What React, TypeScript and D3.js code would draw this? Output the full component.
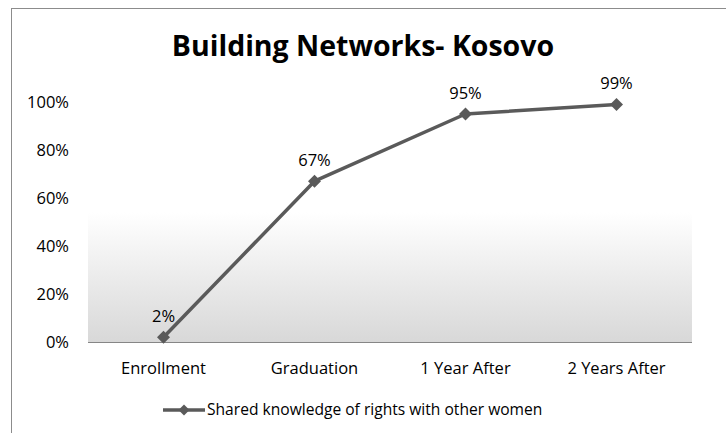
import React from "react";
import * as d3 from "d3";

const categories = ["Enrollment", "Graduation", "1 Year After", "2 Years After"];
const values = [0.02, 0.67, 0.95, 0.99];
const yTicks = [0, 0.2, 0.4, 0.6, 0.8, 1.0];
const seriesName = "Shared knowledge of rights with other women";
const title = "Building Networks- Kosovo";

const W = 726;
const H = 433;
const FONT = "'Open Sans', 'Noto Sans', sans-serif";

export default function App() {
  const plotL = 88, plotR = 692, plotT = 102, plotB = 342;
  const x = d3.scaleBand<string>().domain(categories).range([plotL, plotR]);
  const y = d3.scaleLinear().domain([0, 1]).range([plotB, plotT]);
  const cx = (c: string) => (x(c) as number) + x.bandwidth() / 2;
  const line = d3
    .line<number>()
    .x((_, i) => cx(categories[i]))
    .y((d) => y(d));
  const fmt = d3.format(".0%");
  const diamond = (px: number, py: number, r: number) =>
    `M${px},${py - r}L${px + r},${py}L${px},${py + r}L${px - r},${py}Z`;
  const col = "#5a5a5a";
  const fs = 16.5;

  return (
    <svg
      width={W}
      height={H}
      style={{ position: "absolute", left: 0, top: 0, background: "#fff" }}
      fontFamily={FONT}
    >
      <defs>
        <linearGradient id="pg" x1="0" y1="0" x2="0" y2="1">
          <stop offset="0" stopColor="#ffffff" />
          <stop offset="0.46" stopColor="#ffffff" />
          <stop offset="1" stopColor="#d8d8d8" />
        </linearGradient>
      </defs>
      <rect x={0} y={0} width={W} height={H} fill="#fff" />
      <rect x={11.5} y={8.5} width={900} height={600} fill="none" stroke="#8c8c8c" strokeWidth={1} />
      <text x={363} y={56} textAnchor="middle" fontSize={28.5} fontWeight="bold" fill="#000">
        {title}
      </text>
      <rect x={plotL} y={plotT} width={plotR - plotL} height={plotB - plotT} fill="url(#pg)" />
      <line x1={plotL} x2={plotR} y1={plotB + 0.5} y2={plotB + 0.5} stroke="#868686" strokeWidth={1.2} />
      {yTicks.map((t) => (
        <text key={t} x={69} y={y(t)} dy="0.35em" textAnchor="end" fontSize={fs} fill="#000">
          {fmt(t)}
        </text>
      ))}
      {categories.map((c) => (
        <text key={c} x={cx(c)} y={368} dy="0.35em" textAnchor="middle" fontSize={fs} fill="#000">
          {c}
        </text>
      ))}
      <path d={line(values) || ""} fill="none" stroke={col} strokeWidth={3.5} strokeLinejoin="round" />
      {values.map((v, i) => (
        <path key={i} d={diamond(cx(categories[i]), y(v), 6.5)} fill={col} />
      ))}
      {values.map((v, i) => (
        <text
          key={"l" + i}
          x={cx(categories[i])}
          y={y(v) - 21}
          dy="0.35em"
          textAnchor="middle"
          fontSize={fs}
          fill="#000"
        >
          {fmt(v)}
        </text>
      ))}
      <line x1={163} x2={205} y1={410} y2={410} stroke={col} strokeWidth={3.5} />
      <path d={diamond(184, 410, 5.5)} fill={col} />
      <text x={207} y={410} dy="0.35em" fontSize={15.6} fill="#000">
        {seriesName}
      </text>
    </svg>
  );
}
